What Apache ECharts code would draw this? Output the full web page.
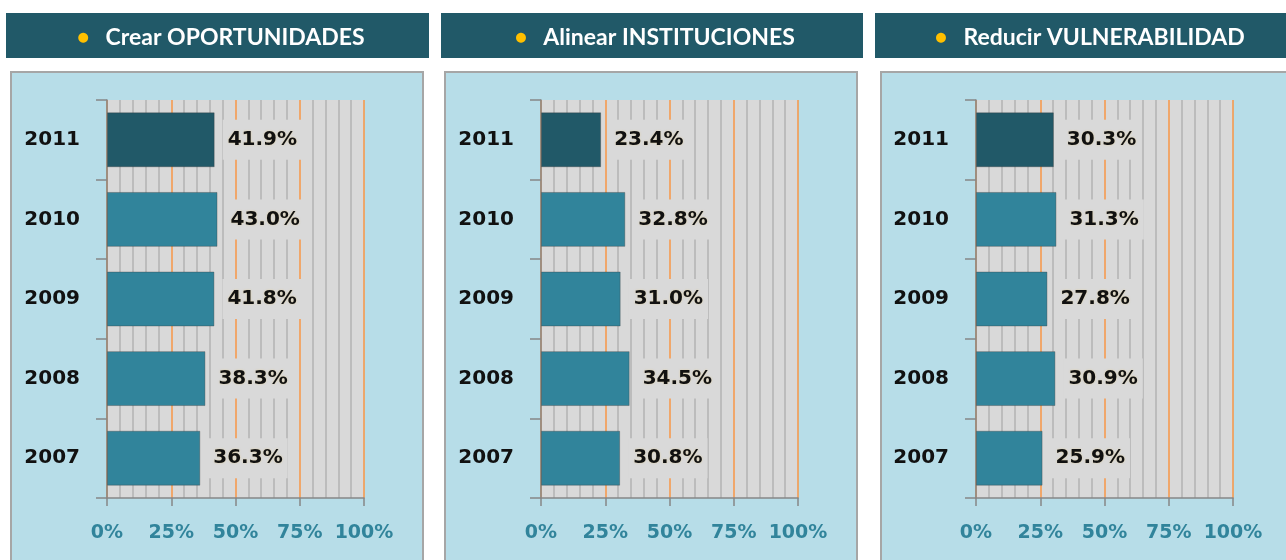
<!DOCTYPE html>
<html>
<head>
<meta charset="utf-8">
<script src="https://cdn.jsdelivr.net/npm/echarts@6/dist/echarts.min.js"></script>
<style>
  html, body { margin: 0; padding: 0; background: #fff; }
  #chart { width: 1286px; height: 560px; }
</style>
</head>
<body>
<div id="chart"></div>
<script>
// data
const years = ['2007', '2008', '2009', '2010', '2011']
const crearOportunidades = [36.3, 38.3, 41.8, 43.0, 41.9]
const alinearInstituciones = [30.8, 34.5, 31.0, 32.8, 23.4]
const reducirVulnerabilidad = [25.9, 30.9, 27.8, 31.3, 30.3]
const panelTitles = ['Crear OPORTUNIDADES', 'Alinear INSTITUCIONES', 'Reducir VULNERABILIDAD']
const xTicks = [0, 25, 50, 75, 100]

const dark = '#215968'
const teal = '#31849b'
const gridGray = '#d9d9d9'
const panelBlue = '#b7dde8'
const axisGray = '#868686'
const orange = '#f79646'
const valueFont = 'DejaVu Sans'

// layout of the three panels (pixels)
const plotLeft = [107, 541, 976]
const headerBox = [[6, 429], [441, 863], [875, 1290]]
const panelBox = [[11, 423], [445, 857], [881, 1296]]
const titleCenter = [216, 650, 1085]

const seriesData = [crearOportunidades, alinearInstituciones, reducirVulnerabilidad]

const chart = echarts.init(document.getElementById('chart'))

const graphicEls = []
headerBox.forEach(([x1, x2]) => {
  graphicEls.push({
    type: 'rect', z: -10,
    shape: { x: x1, y: 13, width: x2 - x1, height: 45 },
    style: { fill: dark }
  })
})
panelBox.forEach(([x1, x2]) => {
  graphicEls.push({
    type: 'rect', z: -10,
    shape: { x: x1, y: 72, width: x2 - x1, height: 500 },
    style: { fill: panelBlue, stroke: '#a6a6a6', lineWidth: 2 }
  })
})

const option = {
  animation: false,
  backgroundColor: '#ffffff',
  graphic: { elements: graphicEls },
  title: panelTitles.map((t, i) => ({
    text: '{dot|●}   ' + t,
    left: titleCenter[i],
    top: 21,
    textAlign: 'center',
    textStyle: {
      color: '#ffffff',
      fontFamily: 'Lato',
      fontWeight: 'bold',
      fontSize: 23,
      rich: {
        dot: { color: '#ffc000', fontSize: 13, fontFamily: 'DejaVu Sans' }
      }
    }
  })),
  grid: plotLeft.map(l => ({
    left: l, width: 257, top: 100, height: 398,
    show: true, backgroundColor: gridGray, borderWidth: 0
  })),
  xAxis: plotLeft.map((l, i) => ({
    type: 'value', gridIndex: i,
    min: xTicks[0], max: xTicks[xTicks.length - 1], interval: 25,
    axisLine: { show: true, lineStyle: { color: axisGray, width: 1.5 } },
    axisTick: { show: true, length: 8, lineStyle: { color: axisGray, width: 1.5 } },
    axisLabel: {
      formatter: '{value}%', margin: 26,
      color: teal, fontFamily: valueFont, fontWeight: 'bold', fontSize: 19
    },
    splitLine: { show: true, lineStyle: { color: orange, width: 1.5 } },
    minorTick: { show: false, splitNumber: 5 },
    minorSplitLine: { show: true, lineStyle: { color: '#b2b2b2', width: 1.5 } }
  })),
  yAxis: plotLeft.map((l, i) => ({
    type: 'category', gridIndex: i, data: years,
    axisLine: { show: true, lineStyle: { color: axisGray, width: 1.5 } },
    axisTick: { show: true, length: 11, lineStyle: { color: axisGray, width: 1.5 } },
    axisLabel: {
      margin: 27, color: '#111', fontFamily: valueFont, fontWeight: 'bold', fontSize: 20,
      padding: [4, 0, 0, 0]
    },
    splitLine: { show: false }
  })),
  series: seriesData.map((d, i) => ({
    type: 'bar', xAxisIndex: i, yAxisIndex: i, data: d,
    barCategoryGap: '31%', z: 3,
    itemStyle: {
      color: p => (p.dataIndex === years.length - 1 ? dark : teal),
      borderColor: 'rgba(60,60,60,0.35)', borderWidth: 1
    },
    label: {
      show: true, position: 'right', distance: 8,
      formatter: p => p.value.toFixed(1) + '%',
      color: '#111', fontFamily: valueFont, fontWeight: 'bold', fontSize: 20,
      backgroundColor: gridGray, padding: [12, 5, 8, 5],
      textShadowColor: 'rgba(230,200,120,0.6)', textShadowBlur: 2
    }
  }))
}

chart.setOption(option)
</script>
</body>
</html>
